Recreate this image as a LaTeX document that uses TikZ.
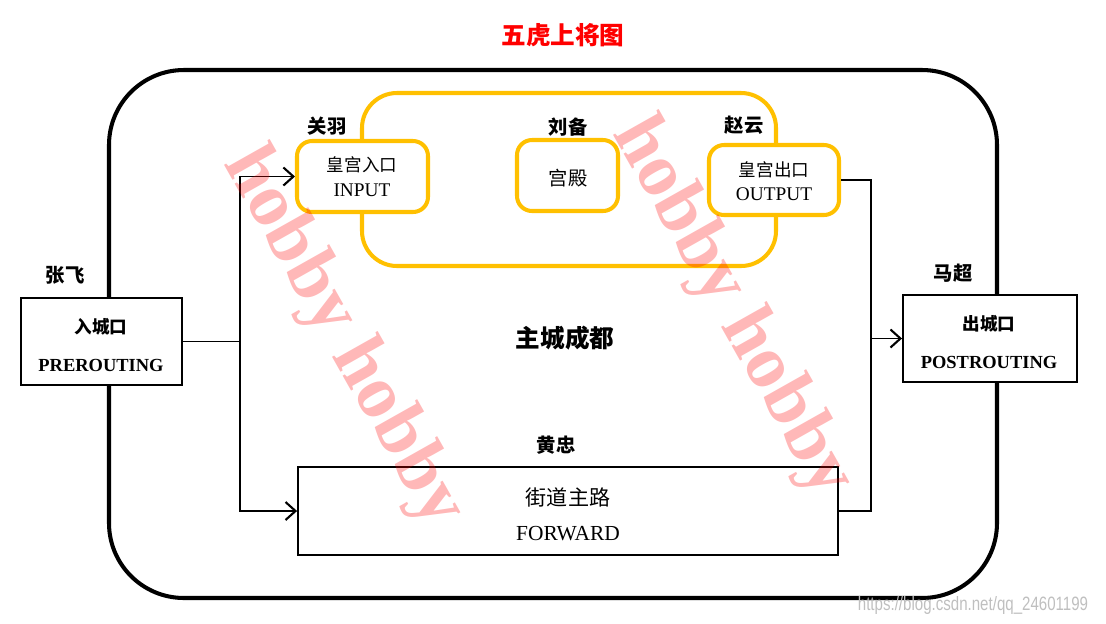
\documentclass[tikz,border=0pt]{standalone}
\usepackage{fontspec}
\setmainfont{Liberation Serif}
\newfontfamily\cjk{Noto Sans CJK SC}
\newfontfamily\wmsans{Liberation Sans}
\usetikzlibrary{arrows.meta}
\definecolor{gold}{RGB}{255,192,0}
\tikzset{
  outerframe/.style={line width=2.3pt, rounded corners=1.5cm},
  bigyellow/.style={draw=gold, line width=2.3pt, rounded corners=0.7cm},
  ybox/.style={draw=gold, fill=white, line width=2.3pt, rounded corners=0.3cm, inner sep=0pt},
  bbox/.style={draw=black, fill=white, line width=1.1pt, inner sep=0pt},
  lbl/.style={font=\cjk\bfseries\fontsize{11}{13}\selectfont, inner sep=0pt},
  cjktxt/.style={font=\cjk\fontsize{10}{12}\selectfont, inner sep=0pt},
  entxt/.style={font=\fontsize{11}{13}\selectfont, inner sep=0pt},
  enbold/.style={font=\bfseries\fontsize{10.5}{13}\selectfont, inner sep=0pt},
  conn/.style={line width=1.1pt},
  arr/.style={line width=1.1pt, -{Straight Barb[length=2mm, width=3.6mm, line width=1.2pt]}},
  wm/.style={font=\bfseries\fontsize{43}{48}\selectfont, text=red, text opacity=0.28, rotate=-60.6, inner sep=0pt}
}
\begin{document}
\begin{tikzpicture}[x=0.02cm, y=-0.02cm]
\useasboundingbox (0,0) rectangle (1106,623);
% title
\node[font=\cjk\bfseries\fontsize{14}{16}\selectfont, text=red, inner sep=0pt] (title) at (563,35) {五虎上将图};
% outer frame
\draw[outerframe] (109,70) rectangle (997,598);
% big yellow
\draw[bigyellow] (362,93) rectangle (776,266);
% yellow boxes
\node[ybox, minimum width=2.62cm, minimum height=1.42cm] (inp) at (362.5,176.5) {};
\node[cjktxt] (inpc) at (362,165) {皇宫入口};
\node[entxt] (inpe) at (362,190) {INPUT};
\node[ybox, minimum width=2.02cm, minimum height=1.42cm] (pal) at (567.5,175.5) {};
\node[cjktxt, font=\cjk\fontsize{11}{13}\selectfont] (palc) at (568,178) {宫殿};
\node[ybox, minimum width=2.60cm, minimum height=1.40cm] (out) at (774,180) {};
\node[cjktxt] (outc) at (774,170) {皇宫出口};
\node[entxt] (oute) at (774,194) {OUTPUT};
% labels
\node[lbl] (guanyu) at (327,126) {关羽};
\node[lbl] (liubei) at (568,127) {刘备};
\node[lbl] (zhaoyun) at (744,125) {赵云};
\node[lbl] (zhangfei) at (65,275) {张飞};
\node[lbl] (machao) at (953,273) {马超};
\node[lbl] (huangzhong) at (556,445) {黄忠};
\node[font=\cjk\bfseries\fontsize{14}{16}\selectfont, inner sep=0pt] (city) at (565,338) {主城成都};
% black boxes
\node[bbox, minimum width=3.22cm, minimum height=1.74cm] (pre) at (101.5,341.5) {};
\node[cjktxt, font=\cjk\bfseries\fontsize{10}{12}\selectfont] (prec) at (101,327) {入城口};
\node[enbold] (pree) at (101,365) {PREROUTING};
\node[bbox, minimum width=3.48cm, minimum height=1.74cm] (post) at (990,338.5) {};
\node[cjktxt, font=\cjk\bfseries\fontsize{10}{12}\selectfont] (postc) at (989,324) {出城口};
\node[enbold] (poste) at (989,362) {POSTROUTING};
\node[bbox, minimum width=10.8cm, minimum height=1.76cm] (fwd) at (568,511) {};
\node[cjktxt, font=\cjk\fontsize{12}{14}\selectfont] (fwdc) at (568,497) {街道主路};
\node[entxt, font=\fontsize{12.2}{14}\selectfont] (fwde) at (568,534) {FORWARD};
% connectors
\coordinate (jl) at (240,341);
\coordinate (jr) at (871,338);
\draw[conn] (pre.east) -- (pre.east -| jl);
\draw[arr] (pre.east -| jl) |- (inp.west);
\draw[arr] (pre.east -| jl) |- (fwd.west);
\draw[conn] (out.east) -| (jr |- post.west);
\draw[conn] (fwd.east) -| (jr |- post.west);
\draw[arr] (jr |- post.west) -- (post.west);
% watermarks
\node[wm] (wm1) at (343,338) {hobby hobby};
\node[wm] (wm2) at (732,308) {hobby hobby};
\node[font=\wmsans\fontsize{11}{13}\selectfont, text=black!25, xscale=0.78, inner sep=0pt] (csdn) at (973,605) {https://blog.csdn.net/qq\_24601199};
\end{tikzpicture}
\end{document}
